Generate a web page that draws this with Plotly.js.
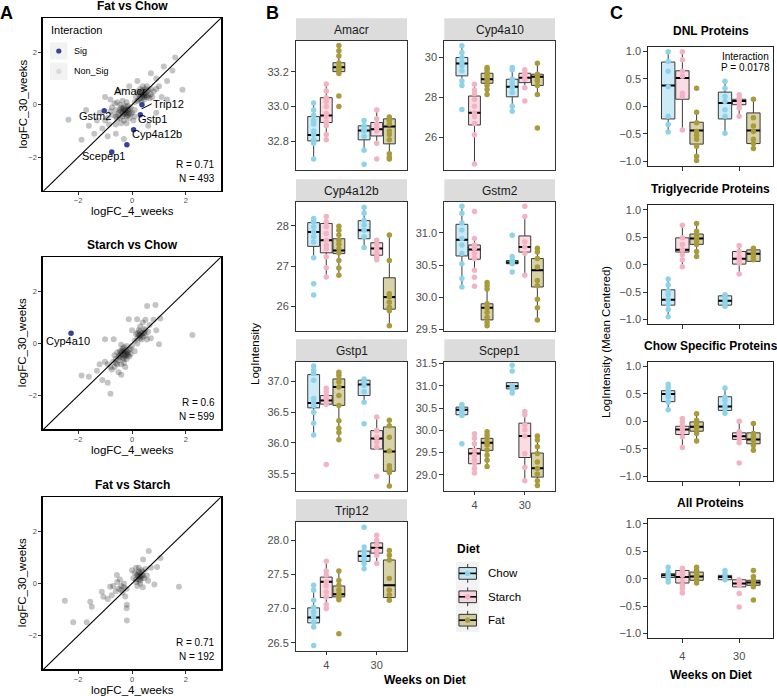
<!DOCTYPE html>
<html><head><meta charset="utf-8">
<script src="https://cdn.plot.ly/plotly-3.0.1.min.js"></script>
<style>body{margin:0;background:#fff}#chart{width:777px;height:696px}</style>
</head><body><div id="chart"></div>
<script>
// ---------------- Panel A data (logFC 4 weeks, logFC 30 weeks) ----------------
const fatChowNonSig = [
[-0.3,-0.2],[-0.2,-0.3],[-0.4,-0.1],[-0.1,-0.15],[-0.5,-0.3],[-0.35,-0.45],[-0.25,-0.05],[-0.15,-0.4],[-0.6,-0.2],[-0.45,0.0],[-0.3,-0.6],[0.0,-0.3],[-0.7,-0.4],[-0.2,0.1],[-0.55,-0.55],[-0.05,-0.1],[-0.8,-0.25],[-0.35,-0.3],[-0.25,-0.25],[-0.1,-0.5],[-0.65,0.05],[-0.9,-0.5],[-0.4,-0.7],[0.05,-0.6],[-0.3,-0.35],[-0.45,-0.2],[-0.2,-0.45],[-0.15,-0.2],
[-0.35,-0.15],[-0.25,-0.35],[-0.4,-0.25],[-0.3,-0.1],[-0.2,-0.2],[-0.5,-0.4],[-0.1,-0.3],[-0.6,-0.45],[-0.45,-0.5],[-0.15,-0.05],[-0.05,-0.35],[-0.75,-0.1],[-0.55,0.1],[-0.35,0.15],[0.1,-0.2],[-1.0,-0.6],[-0.85,-0.75],[-0.6,-0.75],[-0.2,-0.7],[0.1,-0.45],
[0.4,0.35],[0.3,0.25],[0.5,0.45],[0.35,0.5],[0.55,0.3],[0.25,0.4],[0.45,0.2],[0.6,0.55],[0.2,0.15],[0.7,0.4],[0.5,0.6],[0.35,0.1],[0.65,0.25],[0.4,0.7],[0.15,0.3],[0.8,0.5],[0.45,0.4],[0.38,0.28],
[0.45,0.3],[0.35,0.4],[0.5,0.35],[0.3,0.45],[0.55,0.5],[0.25,0.2],[0.6,0.35],[0.4,0.55],[0.7,0.6],[0.2,0.5],[0.75,0.3],[0.3,0.6],[0.55,0.7],[0.9,0.6],[0.1,0.1],
[-2.36,-0.57],[-1.6,-0.8],[-1.87,-1.33],[-1.3,-0.6],[-1.1,-0.9],[-1.4,-1.1],[-0.9,-1.2],[-0.6,-1.1],[-0.3,-1.3],[1.3,0.9],[1.87,0.57],[1.18,1.46],[0.9,1.0],[1.0,0.7],[0.7,1.2],[1.5,1.3],[1.1,0.3],[-0.1,0.7],[-0.5,0.5],[-1.0,0.3],[0.2,0.9],[1.3,0.2],[0.9,-0.3],[-1.7,-0.2],[1.6,1.8],[0.6,-0.8],[-1.2,-0.3],[-0.8,0.2]
];
const fatChowSig = [[-1.03,-0.23],[0.37,0.0],[0.31,-0.38],[0.06,-0.95],[-0.19,-1.52],[-0.75,-1.8]];

const starchChowNonSig = [
[-0.3,-0.35],[-0.2,-0.3],[-0.4,-0.4],[-0.25,-0.5],[-0.35,-0.2],[-0.15,-0.45],[-0.5,-0.5],[-0.45,-0.3],[-0.1,-0.25],[-0.3,-0.6],[-0.6,-0.6],[-0.2,-0.1],[-0.55,-0.8],[-0.7,-0.7],[-0.05,-0.4],[-0.4,-0.05],[-0.8,-0.9],[-0.65,-0.45],[0.0,-0.1],[-0.3,-0.75],[-0.75,-1.0],[-0.9,-0.8],[-0.5,-1.1],[-0.25,-0.9],[0.1,-0.3],[-0.35,-0.3],[-0.25,-0.4],[-0.45,-0.55],
[-0.3,-0.45],[-0.2,-0.4],[-0.4,-0.3],[-0.35,-0.55],[-0.25,-0.25],[-0.15,-0.35],[-0.45,-0.45],[-0.55,-0.35],[-0.1,-0.5],[-0.3,-0.15],[-0.5,-0.65],[-0.2,-0.6],[-0.6,-0.75],[-0.05,-0.2],[-0.4,-0.8],[-0.65,-0.9],
[0.3,0.3],[0.2,0.2],[0.4,0.4],[0.35,0.15],[0.25,0.5],[0.5,0.3],[0.15,0.35],[0.45,0.55],[0.55,0.15],[0.3,0.65],[0.6,0.45],[0.1,0.1],[0.65,0.7],[0.4,0.8],[0.2,0.0],[0.7,0.2],[0.5,0.9],
[0.3,0.2],[0.35,0.35],[0.25,0.3],[0.4,0.25],[0.45,0.4],[0.2,0.4],[0.5,0.5],[0.3,0.45],
[-1.87,-1.23],[-1.6,-1.27],[-0.8,-1.92],[0.56,1.43],[0.87,1.47],[-0.12,0.92],[0.19,0.92],[2.24,0.32],[1.0,-0.03],[-1.0,0.16],[-0.68,0.16],[-1.3,-1.04],[-1.1,-1.4],[-0.9,-1.5],[-1.0,-0.7],[-1.2,-0.8],[0.8,0.9],[0.9,0.5],[1.05,0.95],[-0.4,-1.2],[0.0,0.5]
];
const starchChowSig = [[-2.26,0.39]];

const fatStarchNonSig = [
[0.25,0.25],[0.3,0.1],[0.2,0.35],[0.35,0.3],[0.15,0.15],[0.4,0.45],[0.3,0.0],[0.45,0.2],[0.1,0.4],[0.5,0.55],[0.2,-0.1],[0.35,0.5],[0.05,0.2],[0.55,0.3],[0.25,0.6],[0.4,-0.15],[0.6,0.1],[0.0,0.5],[0.15,0.6],
[0.3,0.25],[0.25,0.15],[0.35,0.2],[0.2,0.3],[0.3,0.4],[0.4,0.3],[0.15,0.05],[0.25,0.45],
[-0.4,-0.1],[-0.5,-0.2],[-0.3,0.0],[-0.6,-0.3],[-0.35,-0.35],[-0.2,-0.2],[-0.55,0.05],[-0.25,-0.5],[-0.7,-0.1],[-0.45,0.15],[-0.4,-0.25],[-0.3,-0.15],
[-2.49,-0.66],[-2.18,-1.48],[-1.68,-1.48],[-1.55,-0.7],[-1.49,-0.89],[-1.12,-0.32],[-1.06,-0.51],[-0.81,-0.13],[-0.56,0.32],[-0.19,-0.82],[-0.19,-1.42],[0.62,1.24],[0.93,0.63],[0.83,-0.04],[1.74,-0.13],[0.41,0.91],[1.06,0.97],[-0.9,-0.6],[-0.2,-0.95],[0.7,0.6],[-0.75,-0.45]
];

// ---------------- Panel B data: groups Chow4, Starch4, Fat4, Chow30, Starch30, Fat30 ----------------
// box = [lower whisker, Q1, median, Q3, upper whisker]
const diets = ['Chow','Starch','Fat'];
const weekLabels = ['4','30'];

const amacrBox = [[32.695,32.804,32.838,32.943,33.019],[32.813,32.909,32.949,33.051,33.133],[33.187,33.2,33.225,33.251,33.347],[32.752,32.81,32.863,32.89,32.924],[32.79,32.832,32.87,32.909,32.981],[32.699,32.787,32.886,32.93,32.939]];
const amacrPts = [[33.02,32.98,32.95,32.92,32.9,32.86,32.84,32.81,32.79,32.7],[33.13,33.09,33.05,33.03,33.0,32.96,32.94,32.91,32.89,32.84,32.81],[33.35,33.32,33.29,33.25,33.23,33.22,33.21,33.19,33.06,33.0],[32.92,32.89,32.87,32.86,32.83,32.75,32.67],[32.98,32.93,32.9,32.88,32.86,32.79,32.7],[32.94,32.92,32.9,32.86,32.84,32.81,32.73,32.71,32.7]];

const cyp4a10Box = [[28.6,29.08,29.7,30.0,30.59],[24.66,26.62,27.23,28.07,28.66],[28.15,28.71,28.91,29.21,29.5],[27.31,28.03,28.54,28.91,29.5],[28.49,28.74,28.99,29.21,29.38],[28.15,28.6,29.04,29.16,29.71]];
const cyp4a10Pts = [[30.59,30.25,30.0,29.75,29.58,29.33,28.82,28.6,27.39],[28.66,28.37,28.2,27.9,27.56,27.23,27.03,26.69,26.13,24.66],[29.5,29.38,29.24,29.08,28.94,28.82,28.6,28.4,28.15],[29.5,29.38,28.91,28.74,28.49,28.24,27.56,27.31],[29.38,29.21,29.08,28.91,28.49,27.82],[29.71,29.16,28.99,28.82,28.6,28.15,26.47]];

const cyp4a12bBox = [[27.21,27.49,27.85,28.08,28.18],[26.73,27.33,27.64,28.06,28.23],[26.77,27.31,27.39,27.68,27.99],[27.46,27.68,27.89,28.13,28.46],[27.16,27.27,27.44,27.58,27.64],[25.52,25.93,26.23,26.71,27.77]];
const cyp4a12bPts = [[28.18,28.1,27.98,27.85,27.73,27.6,27.21,26.56,26.28],[28.23,28.1,27.98,27.81,27.64,27.52,27.43,27.23,26.96,26.73],[27.99,27.89,27.77,27.64,27.54,27.43,27.33,27.14,26.95,26.77],[28.46,28.31,28.14,28.02,27.89,27.73,27.46],[27.64,27.54,27.43,27.33,27.23,27.16],[27.77,27.14,26.31,26.23,26.1,25.98,25.89,25.52]];

const gstm2Box = [[30.16,30.64,30.89,31.13,31.41],[30.42,30.59,30.74,30.81,30.91],[29.56,29.65,29.84,29.9,30.23],[30.5,30.52,30.54,30.57,30.6],[30.34,30.7,30.78,30.95,31.25],[29.65,30.16,30.42,30.6,30.76]];
const gstm2Pts = [[31.41,31.3,31.15,31.04,30.91,30.81,30.68,30.52,30.29,30.16],[31.33,30.91,30.81,30.76,30.68,30.6,30.42,30.31,30.17],[30.23,30.18,30.13,29.9,29.84,29.77,29.69,29.61,29.56],[30.96,30.63,30.58,30.55,30.52,30.39],[31.41,31.25,30.86,30.78,30.68,30.34],[30.76,30.7,30.6,30.47,30.26,30.18,29.97,29.84,29.65]];

const gstp1Box = [[36.13,36.57,36.65,37.11,37.25],[36.63,36.63,36.69,36.77,36.89],[36.05,36.61,36.91,37.04,37.15],[36.66,36.77,36.95,37.02,37.04],[35.9,35.9,36.07,36.2,36.42],[35.3,35.54,35.86,36.26,36.37]];
const gstp1Pts = [[37.25,37.18,37.13,37.02,36.72,36.66,36.61,36.5,36.32,36.13],[36.89,36.83,36.77,36.72,36.66,36.63,35.65],[37.15,37.1,37.04,36.99,36.91,36.77,36.61,36.36,36.24,36.17,36.05],[37.04,36.99,36.93,36.83,36.66,36.31],[36.42,36.2,36.09,36.01,35.93,35.46],[36.37,36.28,36.09,35.87,35.63,35.57,35.52,35.3]];

const scpep1Box = [[30.33,30.35,30.46,30.52,30.58],[29.04,29.25,29.48,29.59,29.92],[29.19,29.55,29.72,29.82,29.97],[30.84,30.93,30.99,31.07,31.07],[28.87,29.39,29.87,30.16,30.42],[28.76,28.95,29.15,29.49,29.87]];
const scpep1Pts = [[30.58,30.5,30.46,30.39,30.33,29.7],[29.92,29.82,29.7,29.55,29.44,29.34,29.25,29.14,29.04],[29.97,29.89,29.82,29.74,29.67,29.55,29.44,29.33,29.19],[31.46,31.33,30.99,30.92,30.84],[30.42,30.35,30.12,30.01,29.87,29.48,29.17,28.87],[29.87,29.78,29.63,29.48,29.29,29.14,29.02,28.87,28.76]];

const trip12Box = [[26.73,26.79,26.87,27.01,27.34],[27.0,27.16,27.39,27.46,27.69],[27.13,27.17,27.21,27.33,27.55],[27.58,27.69,27.77,27.84,27.9],[27.66,27.81,27.89,27.96,28.07],[27.12,27.16,27.34,27.71,27.85]];
const trip12Pts = [[27.34,27.27,27.12,27.02,26.95,26.88,26.8,26.73,26.46],[27.69,27.55,27.49,27.39,27.33,27.24,27.17,27.06,27.0],[27.55,27.41,27.34,27.27,27.22,27.17,27.13,26.63],[28.19,27.9,27.84,27.78,27.72,27.66,27.58],[28.07,28.0,27.93,27.85,27.78,27.66],[27.85,27.78,27.71,27.44,27.27,27.2,27.12]];

// ---------------- Panel C data (mean-centred LogIntensity) ----------------
const dnlBox = [[-0.47,-0.23,0.38,0.81,1.0],[-0.43,0.13,0.52,0.65,1.0],[-0.99,-0.69,-0.44,-0.29,-0.11],[-0.49,-0.23,0.06,0.26,0.46],[-0.18,0.03,0.1,0.13,0.21],[-0.77,-0.68,-0.44,-0.12,0.13]];
const dnlPts = [[1.0,0.82,0.64,0.36,-0.18,-0.33,-0.47],[1.0,0.85,0.64,0.55,0.24,0.18,-0.43],[0.33,-0.11,-0.3,-0.46,-0.53,-0.6,-0.73,-0.91,-0.99],[0.46,0.33,0.18,0.09,-0.06,-0.18,-0.49],[0.21,0.15,0.12,0.06,-0.03,-0.18],[0.13,-0.21,-0.36,-0.46,-0.6,-0.68,-0.77]];

const tgBox = [[-0.95,-0.74,-0.64,-0.46,-0.26],[-0.04,0.23,0.27,0.49,0.72],[0.15,0.37,0.48,0.56,0.75],[-0.76,-0.74,-0.66,-0.57,-0.55],[-0.17,0.01,0.11,0.24,0.35],[0.06,0.06,0.2,0.27,0.3]];
const tgPts = [[-0.26,-0.37,-0.48,-0.55,-0.64,-0.73,-0.82,-0.95],[0.72,0.49,0.37,0.27,0.18,0.09,-0.04],[0.75,0.61,0.55,0.49,0.43,0.37,0.24,0.15],[-0.55,-0.6,-0.64,-0.7,-0.76],[0.35,0.24,0.15,0.09,0.03,-0.17],[0.3,0.24,0.21,0.15,0.09]];

const chowSpecBox = [[0.21,0.36,0.5,0.56,0.68],[-0.48,-0.24,-0.15,-0.09,0.05],[-0.36,-0.18,-0.1,-0.01,0.14],[0.15,0.2,0.27,0.45,0.61],[-0.39,-0.33,-0.27,-0.21,0.0],[-0.53,-0.41,-0.33,-0.21,-0.04]];
const chowSpecPts = [[0.68,0.62,0.56,0.5,0.44,0.35,0.21],[0.05,-0.01,-0.07,-0.13,-0.19,-0.28,-0.48],[0.14,0.02,-0.04,-0.09,-0.13,-0.22,-0.36],[0.61,0.44,0.38,0.29,0.23,0.15],[0.0,-0.19,-0.25,-0.32,-0.39,-0.76],[-0.04,-0.22,-0.28,-0.35,-0.44,-0.53]];

const allBox = [[-0.06,0.02,0.06,0.09,0.21],[-0.26,-0.08,0.03,0.15,0.19],[-0.08,-0.03,0.04,0.12,0.21],[-0.02,-0.02,0.03,0.06,0.15],[-0.15,-0.15,-0.09,-0.02,-0.02],[-0.15,-0.12,-0.07,-0.03,0.04]];
const allPts = [[0.21,0.12,0.06,0.0,-0.06],[0.19,0.12,0.06,-0.03,-0.12,-0.18,-0.26],[0.21,0.15,0.09,0.04,-0.02,-0.08],[0.15,0.09,0.03,-0.02],[-0.02,-0.06,-0.12,-0.27,-0.52],[0.15,0.04,-0.03,-0.09,-0.15,-0.39]];

// ---------------- Drawing ----------------
const FONT = 'Liberation Sans, Arial, Helvetica, sans-serif';
const W = 777, H = 696;
const px = v => v / W;
const py = v => 1 - v / H;
const dietColors = ['#8fd3ea','#f4b3c3','#a99b3c'];
const dietFills = ['rgba(143,211,234,0.45)','rgba(244,179,195,0.45)','rgba(169,155,60,0.45)'];
const sigColor = '#34429a';
const DODGE = 0.25, BW = 0.235;

const layout = {width:W,height:H,margin:{l:0,r:0,t:0,b:0},paper_bgcolor:'#fff',plot_bgcolor:'#fff',
  showlegend:false,font:{family:FONT,color:'#000'},shapes:[],annotations:[]};
const traces = [];
let axN = 0;
function addAxes(x0,x1,y0,y1,xo,yo){
  axN++;
  const s = axN===1 ? '' : String(axN);
  const base = {showgrid:false,zeroline:false,showline:true,mirror:true,fixedrange:true};
  layout['xaxis'+s] = Object.assign({}, base, {domain:[px(x0),px(x1)],anchor:'y'+s}, xo);
  layout['yaxis'+s] = Object.assign({}, base, {domain:[py(y1),py(y0)],anchor:'x'+s}, yo);
  return {x:'x'+s, y:'y'+s};
}
function txt(x,y,text,size,opts){
  layout.annotations.push(Object.assign({xref:'paper',yref:'paper',x:px(x),y:py(y),text:text,showarrow:false,
    xanchor:'center',yanchor:'middle',borderpad:0,font:{family:FONT,size:size,color:'#000'}},opts||{}));
}
function rect(x0,y0,x1,y1,fill,line,layer){
  layout.shapes.push({type:'rect',xref:'paper',yref:'paper',x0:px(x0),x1:px(x1),y0:py(y1),y1:py(y0),
    fillcolor:fill,line:line||{width:0},layer:layer||'below'});
}
function pline(x0,y0,x1,y1,color,width){
  layout.shapes.push({type:'line',xref:'paper',yref:'paper',x0:px(x0),x1:px(x1),y0:py(y0),y1:py(y1),line:{color:color,width:width},layer:'above'});
}
function dot(cx,cy,r,color){
  layout.shapes.push({type:'circle',xref:'paper',yref:'paper',x0:px(cx-r),x1:px(cx+r),y0:py(cy+r),y1:py(cy-r),fillcolor:color,line:{width:0},layer:'above'});
}

// Panel letters
txt(6.7,12.8,'<b>A</b>',18);
txt(272.5,12.8,'<b>B</b>',18);
txt(616.7,12.5,'<b>C</b>',18);

// ---- Panel A ----
const aX0 = 43, aX1 = 221;
const aPanels = [
  {title:'Fat vs Chow', top:18.3, bottom:190.7, ns:fatChowNonSig, sig:fatChowSig, R:'R = 0.71', N:'N = 493',
   labels:[['Amacr',130,91],['Trip12',168,104],['Gstp1',152,119],['Gstm2',95,116],['Cyp4a12b',157,134],['Scepep1',103,156]]},
  {title:'Starch vs Chow', top:257.3, bottom:429, ns:starchChowNonSig, sig:starchChowSig, R:'R = 0.6', N:'N = 599',
   labels:[['Cyp4a10',68,340.7]]},
  {title:'Fat vs Starch', top:497.3, bottom:669, ns:fatStarchNonSig, sig:[], R:'R = 0.71', N:'N = 192', labels:[]}
];
aPanels.forEach(p => {
  const tick = {ticks:'outside',ticklen:3,tickcolor:'#333',tickwidth:1,tickfont:{family:FONT,size:7.5,color:'#4d4d4d'},
    linecolor:'#000',linewidth:1.6,tickvals:[-2,0,2]};
  const ax = addAxes(aX0,aX1,p.top,p.bottom,
    Object.assign({range:[-3.3,3.3],ticklabelstandoff:-1},tick),Object.assign({range:[-3.27,3.29]},tick));
  traces.push({type:'scatter',mode:'markers',x:p.ns.map(d=>d[0]),y:p.ns.map(d=>d[1]),
    marker:{color:'rgba(0,0,0,0.23)',size:6,line:{width:0}},hoverinfo:'skip',xaxis:ax.x,yaxis:ax.y});
  if(p.sig.length) traces.push({type:'scatter',mode:'markers',x:p.sig.map(d=>d[0]),y:p.sig.map(d=>d[1]),
    marker:{color:sigColor,size:5.5,line:{width:0}},hoverinfo:'skip',xaxis:ax.x,yaxis:ax.y});
  layout.shapes.push({type:'line',xref:ax.x,yref:ax.y,x0:-3.3,y0:-3.3,x1:3.3,y1:3.3,line:{color:'#000',width:1.1},layer:'above'});
  const cx = (aX0+aX1)/2, cy = (p.top+p.bottom)/2;
  txt(cx,p.top-12.5,'<b>'+p.title+'</b>',12);
  txt(cx,p.bottom+20.5,'logFC_4_weeks',11.5);
  txt(22,cy,'logFC_30_weeks',11.5,{textangle:-90});
  txt(216,p.bottom-26.5,p.R,10,{xanchor:'right'});
  txt(216,p.bottom-12.5,p.N,10,{xanchor:'right'});
  p.labels.forEach(l => txt(l[1],l[2],l[0],11));
});
// Trip12 connector
pline(151.7,103.8,141.7,108.8,'#000',1);
// A legend
txt(50,30,'Interaction',11,{xanchor:'left'});
rect(50,42.4,67.5,59.7,'#f2f2f2');
rect(50,62.8,67.5,80.1,'#f2f2f2');
dot(58.8,51,2.6,sigColor);
dot(58.8,71.4,2.6,'#d9d9d9');
txt(73,51,'Sig',9,{xanchor:'left'});
txt(73,71.4,'Non_Sig',9,{xanchor:'left'});

// ---- Box panel helper ----
function boxPanel(ax, boxArr, ptsArr){
  const mx = [], my = [];
  for(let g=0; g<6; g++){
    const w = Math.floor(g/3), d = g%3;
    const xpos = (w+1) + (d-1)*DODGE;
    const s = boxArr[g];
    traces.push({type:'box',orientation:'v',x:[xpos],lowerfence:[s[0]],q1:[s[1]],median:[s[2]],q3:[s[3]],upperfence:[s[4]],
      width:BW,fillcolor:dietFills[d],line:{color:'#3a3a3a',width:1},whiskerwidth:0,boxpoints:false,hoverinfo:'skip',
      xaxis:ax.x,yaxis:ax.y});
    mx.push(xpos-BW/2, xpos+BW/2, null); my.push(s[2], s[2], null);
  }
  traces.push({type:'scatter',mode:'lines',x:mx,y:my,line:{color:'#000',width:2},hoverinfo:'skip',xaxis:ax.x,yaxis:ax.y});
  for(let d=0; d<3; d++){
    const xs = [], ys = [];
    for(let w=0; w<2; w++){
      const g = w*3+d, xpos = (w+1) + (d-1)*DODGE;
      ptsArr[g].forEach(v => { xs.push(xpos); ys.push(v); });
    }
    traces.push({type:'scatter',mode:'markers',x:xs,y:ys,marker:{color:dietColors[d],size:5.5,line:{width:0}},
      hoverinfo:'skip',xaxis:ax.x,yaxis:ax.y});
  }
}

// ---- Panel B ----
const bCols = [[296,407],[444.3,555]];
const bRows = [40.7,201.7,361.7,521.7];
const bH = 129.2, stripH = 22.4;
const bPanels = [
  {name:'Amacr', box:amacrBox, pts:amacrPts, c:0, r:0, range:[32.638,33.377], dtick:0.2, fmt:'.1f'},
  {name:'Cyp4a10', box:cyp4a10Box, pts:cyp4a10Pts, c:1, r:0, range:[24.37,30.84], dtick:2, fmt:'d'},
  {name:'Cyp4a12b', box:cyp4a12bBox, pts:cyp4a12bPts, c:0, r:1, range:[25.39,28.6], dtick:1, fmt:'d'},
  {name:'Gstm2', box:gstm2Box, pts:gstm2Pts, c:1, r:1, range:[29.48,31.48], dtick:0.5, fmt:'.1f'},
  {name:'Gstp1', box:gstp1Box, pts:gstp1Pts, c:0, r:2, range:[35.22,37.32], dtick:0.5, fmt:'.1f', xlab:false},
  {name:'Scpep1', box:scpep1Box, pts:scpep1Pts, c:1, r:2, range:[28.64,31.54], dtick:0.5, fmt:'.1f', xlab:true},
  {name:'Trip12', box:trip12Box, pts:trip12Pts, c:0, r:3, range:[26.38,28.27], dtick:0.5, fmt:'.1f', xlab:true}
];
bPanels.forEach(p => {
  const [x0,x1] = bCols[p.c]; const top = bRows[p.r], bottom = top + bH;
  const xo = {range:[0.4,2.6],tickvals:[1,2],ticktext:weekLabels,linecolor:'#333',linewidth:1};
  if(p.xlab){ Object.assign(xo,{ticks:'outside',ticklen:3.5,tickcolor:'#333',tickfont:{family:FONT,size:11,color:'#4d4d4d'}}); }
  else { Object.assign(xo,{ticks:'',showticklabels:false}); }
  const yo = {range:p.range,dtick:p.dtick,tick0:0,tickformat:p.fmt,ticks:'outside',ticklen:4,tickcolor:'#333',
    linecolor:'#333',linewidth:1,tickfont:{family:FONT,size:11,color:'#4d4d4d'}};
  const ax = addAxes(x0,x1,top,bottom,xo,yo);
  boxPanel(ax,p.box,p.pts);
  rect(x0,top-stripH,x1,top,'#dcdcdc');
  txt((x0+x1)/2,top-stripH/2,p.name,12,{font:{family:FONT,size:12,color:'#1a1a1a'}});
});
txt(255,354,'LogIntensity',11.5,{textangle:-90});
txt(425,680,'<b>Weeks on Diet</b>',12);
// B legend
txt(456,549.3,'<b>Diet</b>',12,{xanchor:'left'});
const kS = 23.4, kTop = 561.7, kX = 456;
diets.forEach((d,i) => {
  const t = kTop + i*kS, cxk = kX + kS/2, cyk = t + kS/2;
  rect(kX,t,kX+kS,t+kS,'#f2f2f2');
  pline(cxk,t+0.1*kS,cxk,t+0.25*kS,'#333',1);
  pline(cxk,t+0.75*kS,cxk,t+0.9*kS,'#333',1);
  layout.shapes.push({type:'rect',xref:'paper',yref:'paper',x0:px(kX+0.125*kS),x1:px(kX+0.875*kS),y0:py(t+0.75*kS),y1:py(t+0.25*kS),
    fillcolor:dietFills[i],line:{color:'#333',width:1},layer:'above'});
  pline(kX+0.125*kS,cyk,kX+0.875*kS,cyk,'#000',1.6);
  dot(cxk,cyk,2.7,dietColors[i]);
  txt(486.7,cyk,d,11.5,{xanchor:'left'});
});

// ---- Panel C ----
const cX0 = 648.3, cX1 = 773.3;
const cPanels = [
  {title:'DNL Proteins', top:46.7, box:dnlBox, pts:dnlPts},
  {title:'Triglyecride Proteins', top:205, box:tgBox, pts:tgPts},
  {title:'Chow Specific Proteins', top:361.7, box:chowSpecBox, pts:chowSpecPts},
  {title:'All Proteins', top:519, box:allBox, pts:allPts}
];
cPanels.forEach((p,i) => {
  const bottom = p.top + 119.3;
  const last = i === cPanels.length-1;
  const xo = {range:[0.4,2.6],tickvals:[1,2],ticktext:weekLabels,linecolor:'#222',linewidth:1,ticks:'outside',ticklen:4,
    tickcolor:'#333',showticklabels:last,tickfont:{family:FONT,size:11,color:'#4d4d4d'},ticklabelstandoff:3};
  const yo = {range:[-1.09,1.09],dtick:0.5,tick0:0,tickformat:'.1f',ticks:'outside',ticklen:4,tickcolor:'#333',
    linecolor:'#222',linewidth:1,tickfont:{family:FONT,size:11,color:'#4d4d4d'}};
  const ax = addAxes(cX0,cX1,p.top,bottom,xo,yo);
  boxPanel(ax,p.box,p.pts);
  txt((cX0+cX1)/2,p.top-16,'<b>'+p.title+'</b>',12);
});
txt(745,56,'Interaction',10);
txt(745,67.7,'P = 0.0178',10);
txt(606,342,'LogIntensity (Mean Centered)',11.5,{textangle:-90});
txt(711,675,'<b>Weeks on Diet</b>',12);

Plotly.newPlot('chart',traces,layout,{staticPlot:true,displayModeBar:false});
</script>
</body></html>
